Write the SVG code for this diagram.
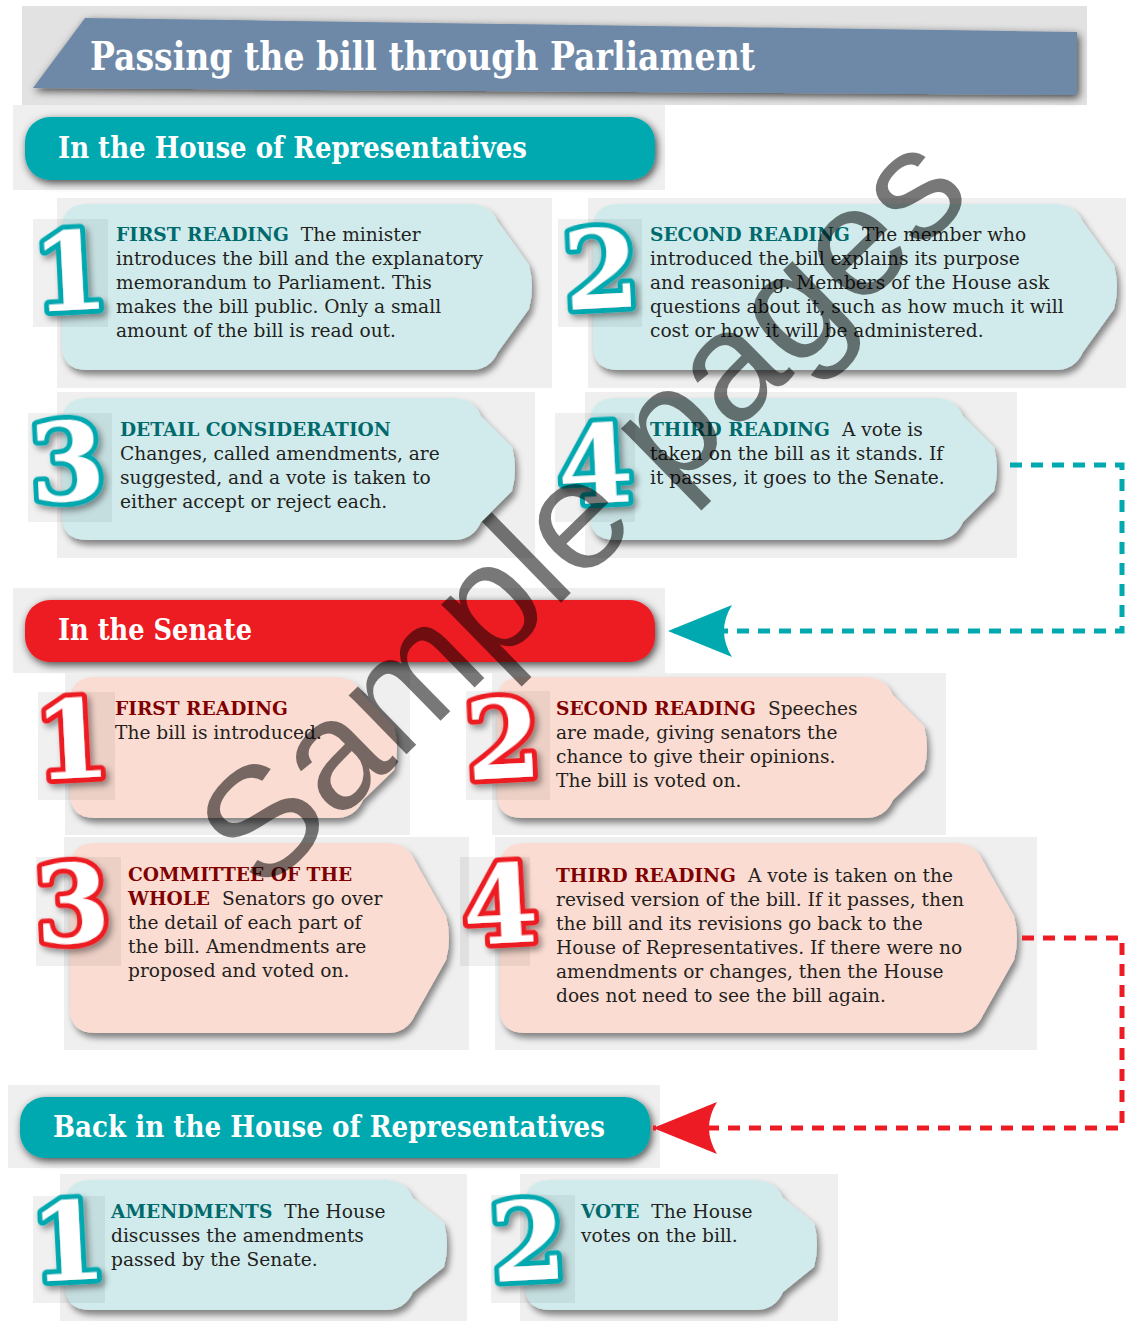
<svg xmlns="http://www.w3.org/2000/svg" width="1126" height="1321" viewBox="0 0 1126 1321">
  <defs>
    <filter id="sh" x="-10%" y="-15%" width="125%" height="140%">
      <feDropShadow dx="3" dy="5" stdDeviation="3" flood-color="#000" flood-opacity="0.45"/>
    </filter>
    <filter id="hsh" x="-10%" y="-30%" width="125%" height="170%">
      <feDropShadow dx="2" dy="3" stdDeviation="4" flood-color="#000" flood-opacity="0.7"/>
    </filter>
    <filter id="nsh" x="-30%" y="-30%" width="170%" height="170%">
      <feDropShadow dx="3" dy="4" stdDeviation="3" flood-color="#000" flood-opacity="0.4"/>
    </filter>
    <marker id="arrT" markerUnits="userSpaceOnUse" viewBox="0 0 64 52" refX="64" refY="26" markerWidth="64" markerHeight="52" orient="auto">
      <path d="M64,26 L0,0 Q16,26 0,52 Z" fill="#00a9b0"/>
    </marker>
    <marker id="arrR" markerUnits="userSpaceOnUse" viewBox="0 0 64 52" refX="64" refY="26" markerWidth="64" markerHeight="52" orient="auto">
      <path d="M64,26 L0,0 Q16,26 0,52 Z" fill="#ed1c24"/>
    </marker>
  </defs>
  <style>
    .bg { fill: #efefef; }
    .nbox { fill: #000; fill-opacity: 0.06; }
    .cardT { fill: #d1ebec; filter: url(#sh); }
    .cardR { fill: #fbdcd2; filter: url(#sh); }
    .body { font-family: "DejaVu Serif", serif; font-size: 18.6px; fill: #231f20; }
    .hT { font-weight: bold; fill: #006a6d; }
    .hR { font-weight: bold; fill: #7f0000; }
    .num { font-family: "DejaVu Serif", serif; font-weight: bold; font-size: 108px; fill: #fff; stroke-width: 10; paint-order: stroke; stroke-linejoin: round; text-anchor: middle; filter: url(#nsh); }
    .numT { stroke: #00a9b0; }
    .numR { stroke: #ed1c24; }
    .head { font-family: "DejaVu Serif", serif; font-weight: bold; font-size: 30px; fill: #fff; }
    .conn { fill: none; stroke-width: 5; stroke-dasharray: 12 9; }
  </style>

  <rect width="1126" height="1321" fill="#fff"/>

  <!-- Title banner -->
  <g id="title">
    <rect x="22" y="6" width="1065" height="99" fill="#e2e2e2"/>
    <path d="M33,88 L85,18 L1077,32 L1077,95 Z" fill="#6e89a8" filter="url(#hsh)"/>
    <text x="90" y="70" font-family="DejaVu Serif, serif" font-weight="bold" font-size="40" fill="#fff" textLength="665" lengthAdjust="spacingAndGlyphs">Passing the bill through Parliament</text>
  </g>

  <!-- Section: House of Representatives -->
  <g id="hdr-house">
    <rect class="bg" x="13" y="105" width="652" height="85"/>
    <rect x="25" y="117" width="630" height="63" rx="25" fill="#00a9b0" filter="url(#hsh)"/>
    <text class="head" x="58" y="158" textLength="469" lengthAdjust="spacingAndGlyphs">In the House of Representatives</text>
  </g>

  <g id="h1">
    <rect class="bg" x="57" y="198" width="495" height="190"/>
    <path class="cardT" d="M87,204 H470 Q490,204 498,222 L529,265 Q535,287 529,309 L498,352 Q490,370 470,370 H87 Q62,370 62,345 V229 Q62,204 87,204 Z"/>
    <rect class="nbox" x="33" y="219" width="75" height="108"/>
    <text class="num numT" x="70" y="310" transform="rotate(-3 70 270)">1</text>
    <text class="body"><tspan x="116" y="241" class="hT">FIRST READING</tspan><tspan dx="12">The minister</tspan><tspan x="116" y="265">introduces the bill and the explanatory</tspan><tspan x="116" y="289">memorandum to Parliament. This</tspan><tspan x="116" y="313">makes the bill public. Only a small</tspan><tspan x="116" y="337">amount of the bill is read out.</tspan></text>
  </g>

  <g id="h2">
    <rect class="bg" x="588" y="198" width="538" height="190"/>
    <path class="cardT" d="M618,204 H1055 Q1075,204 1083,222 L1114,265 Q1120,287 1114,309 L1083,352 Q1075,370 1055,370 H618 Q593,370 593,345 V229 Q593,204 618,204 Z"/>
    <rect class="nbox" x="558" y="219" width="84" height="108"/>
    <text class="num numT" x="601" y="308" transform="rotate(-3 601 268)">2</text>
    <text class="body"><tspan x="650" y="241" class="hT">SECOND READING</tspan><tspan dx="12">The member who</tspan><tspan x="650" y="265">introduced the bill explains its purpose</tspan><tspan x="650" y="289">and reasoning. Members of the House ask</tspan><tspan x="650" y="313">questions about it, such as how much it will</tspan><tspan x="650" y="337">cost or how it will be administered.</tspan></text>
  </g>

  <g id="h3">
    <rect class="bg" x="57" y="392" width="478" height="166"/>
    <path class="cardT" d="M87,398 H453 Q473,398 481,416 L512,447 Q518,469 512,491 L481,522 Q473,540 453,540 H87 Q62,540 62,515 V423 Q62,398 87,398 Z"/>
    <rect class="nbox" x="28" y="413" width="84" height="109"/>
    <text class="num numT" x="67" y="500" transform="rotate(-3 67 460)">3</text>
    <text class="body"><tspan x="120" y="436" class="hT">DETAIL CONSIDERATION</tspan><tspan x="120" y="460">Changes, called amendments, are</tspan><tspan x="120" y="484">suggested, and a vote is taken to</tspan><tspan x="120" y="508">either accept or reject each.</tspan></text>
  </g>

  <g id="h4">
    <rect class="bg" x="585" y="392" width="432" height="166"/>
    <path class="cardT" d="M615,398 H935 Q955,398 963,416 L994,447 Q1000,469 994,491 L963,522 Q955,540 935,540 H615 Q590,540 590,515 V423 Q590,398 615,398 Z"/>
    <rect class="nbox" x="555" y="413" width="80" height="109"/>
    <text class="num numT" x="595" y="503" transform="rotate(-3 595 463)">4</text>
    <text class="body"><tspan x="650" y="436" class="hT">THIRD READING</tspan><tspan dx="12">A vote is</tspan><tspan x="650" y="460">taken on the bill as it stands. If</tspan><tspan x="650" y="484">it passes, it goes to the Senate.</tspan></text>
  </g>

  <!-- Section: Senate -->
  <g id="hdr-senate">
    <rect class="bg" x="13" y="588" width="652" height="85"/>
    <rect x="25" y="600" width="630" height="62" rx="25" fill="#ed1c24" filter="url(#hsh)"/>
    <text class="head" x="58" y="640" textLength="194" lengthAdjust="spacingAndGlyphs">In the Senate</text>
  </g>

  <g id="s1">
    <rect class="bg" x="65" y="673" width="345" height="162"/>
    <path class="cardR" d="M95,677 H335 Q355,677 363,695 L394,726 Q400,748 394,770 L363,800 Q355,818 335,818 H95 Q70,818 70,793 V702 Q70,677 95,677 Z"/>
    <rect class="nbox" x="38" y="692" width="77" height="108"/>
    <text class="num numR" x="72" y="778" transform="rotate(-3 72 738)">1</text>
    <text class="body"><tspan x="115" y="715" class="hR">FIRST READING</tspan><tspan x="115" y="739">The bill is introduced.</tspan></text>
  </g>

  <g id="s2">
    <rect class="bg" x="492" y="673" width="454" height="162"/>
    <path class="cardR" d="M522,677 H865 Q885,677 893,695 L924,726 Q930,748 924,770 L893,800 Q885,818 865,818 H522 Q497,818 497,793 V702 Q497,677 522,677 Z"/>
    <rect class="nbox" x="466" y="691" width="84" height="109"/>
    <text class="num numR" x="503" y="778" transform="rotate(-3 503 738)">2</text>
    <text class="body"><tspan x="556" y="715" class="hR">SECOND READING</tspan><tspan dx="12">Speeches</tspan><tspan x="556" y="739">are made, giving senators the</tspan><tspan x="556" y="763">chance to give their opinions.</tspan><tspan x="556" y="787">The bill is voted on.</tspan></text>
  </g>

  <g id="s3">
    <rect class="bg" x="64" y="837" width="405" height="213"/>
    <path class="cardR" d="M95,843 H387 Q407,843 415,861 L446,916 Q452,938 446,960 L415,1015 Q407,1033 387,1033 H95 Q70,1033 70,1008 V868 Q70,843 95,843 Z"/>
    <rect class="nbox" x="36" y="857" width="85" height="109"/>
    <text class="num numR" x="72" y="942" transform="rotate(-3 72 902)">3</text>
    <text class="body"><tspan x="128" y="881" class="hR">COMMITTEE OF THE</tspan><tspan x="128" y="905" class="hR">WHOLE</tspan><tspan dx="12">Senators go over</tspan><tspan x="128" y="929">the detail of each part of</tspan><tspan x="128" y="953">the bill. Amendments are</tspan><tspan x="128" y="977">proposed and voted on.</tspan></text>
  </g>

  <g id="s4">
    <rect class="bg" x="495" y="837" width="542" height="213"/>
    <path class="cardR" d="M525,843 H955 Q975,843 983,861 L1014,916 Q1020,938 1014,960 L983,1015 Q975,1033 955,1033 H525 Q500,1033 500,1008 V868 Q500,843 525,843 Z"/>
    <rect class="nbox" x="460" y="857" width="70" height="109"/>
    <text class="num numR" x="500" y="943" transform="rotate(-3 500 903)">4</text>
    <text class="body"><tspan x="556" y="882" class="hR">THIRD READING</tspan><tspan dx="12">A vote is taken on the</tspan><tspan x="556" y="906">revised version of the bill. If it passes, then</tspan><tspan x="556" y="930">the bill and its revisions go back to the</tspan><tspan x="556" y="954">House of Representatives. If there were no</tspan><tspan x="556" y="978">amendments or changes, then the House</tspan><tspan x="556" y="1002">does not need to see the bill again.</tspan></text>
  </g>

  <!-- Section: back in the House -->
  <g id="hdr-back">
    <rect class="bg" x="8" y="1085" width="652" height="83"/>
    <rect x="20" y="1097" width="630" height="61" rx="25" fill="#00a9b0" filter="url(#hsh)"/>
    <text class="head" x="53" y="1137" textLength="552" lengthAdjust="spacingAndGlyphs">Back in the House of Representatives</text>
  </g>

  <g id="b1">
    <rect class="bg" x="60" y="1174" width="407" height="147"/>
    <path class="cardT" d="M90,1180 H385 Q405,1180 413,1198 L444,1223 Q450,1245 444,1267 L413,1292 Q405,1310 385,1310 H90 Q65,1310 65,1285 V1205 Q65,1180 90,1180 Z"/>
    <rect class="nbox" x="33" y="1196" width="72" height="107"/>
    <text class="num numT" x="68" y="1280" transform="rotate(-3 68 1240)">1</text>
    <text class="body"><tspan x="111" y="1218" class="hT">AMENDMENTS</tspan><tspan dx="12">The House</tspan><tspan x="111" y="1242">discusses the amendments</tspan><tspan x="111" y="1266">passed by the Senate.</tspan></text>
  </g>

  <g id="b2">
    <rect class="bg" x="520" y="1174" width="318" height="147"/>
    <path class="cardT" d="M550,1180 H755 Q775,1180 783,1198 L814,1223 Q820,1245 814,1267 L783,1292 Q775,1310 755,1310 H550 Q525,1310 525,1285 V1205 Q525,1180 550,1180 Z"/>
    <rect class="nbox" x="491" y="1195" width="84" height="108"/>
    <text class="num numT" x="528" y="1280" transform="rotate(-3 528 1240)">2</text>
    <text class="body"><tspan x="581" y="1218" class="hT">VOTE</tspan><tspan dx="12">The House</tspan><tspan x="581" y="1242">votes on the bill.</tspan></text>
  </g>

  <!-- Connectors -->
  <g id="connectors">
    <path class="conn" stroke="#00a9b0" d="M1010,465 H1122 V631 H668" marker-end="url(#arrT)"/>
    <path class="conn" stroke="#ed1c24" d="M1022,938 H1122 V1128 H653" marker-end="url(#arrR)"/>
  </g>

  <!-- Watermark -->
  <text x="0" y="48" transform="translate(585 512) rotate(-44.4)" text-anchor="middle" font-family="Liberation Sans, Arial, sans-serif" font-size="156" fill="#000" fill-opacity="0.53">Sample pages</text>
</svg>
